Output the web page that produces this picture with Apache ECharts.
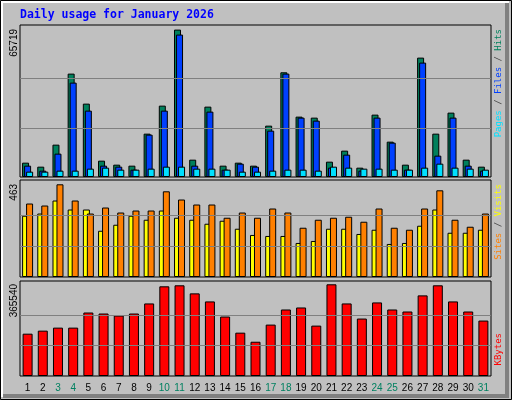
<!DOCTYPE html>
<html><head><meta charset="utf-8">
<script src="https://cdn.jsdelivr.net/npm/echarts@6/dist/echarts.min.js"></script>
<style>html,body{margin:0;padding:0;background:#c0c0c0}#c{width:512px;height:400px}</style>
</head><body><div id="c"></div>
<script>
const days = ['1','2','3','4','5','6','7','8','9','10','11','12','13','14','15','16','17','18','19','20','21','22','23','24','25','26','27','28','29','30','31'];
const weekend = ['3','4','10','11','17','18','24','25','31'];
const hits = [6393,4609,14423,46093,32711,7286,5501,5055,19329,31819,65719,7732,31373,5055,6393,5055,22898,46688,26912,26466,6840,11746,4163,27804,15761,5501,53229,19329,28696,7732,4609];
const files = [5056,2825,10409,42082,29591,5056,4610,3271,18885,29591,63495,5056,29145,3271,5948,4610,20669,46097,26469,25130,4164,9963,2825,26469,15316,3271,51004,9517,26469,5056,2825];
const pages = [2379,2379,2825,2825,3718,4164,3271,3271,3718,4610,4610,3718,3718,3271,2379,2379,2825,3271,3271,2825,4610,4164,3718,3718,3271,3271,4164,5948,4164,3718,3271];
const visits = [367,357,463,382,317,347,322,332,332,428,387,362,362,296,322,296,342,322,246,286,296,301,276,342,246,236,342,433,286,251,317];
const sites = [306,317,382,337,337,231,261,306,286,332,296,286,266,281,241,210,205,205,170,180,241,241,215,236,165,170,256,337,221,221,236];
const kbytes = [168714,180765,192816,192816,253071,249054,241020,249054,289224,357513,361530,329394,297258,237003,172731,136578,204867,265122,273156,200850,365540,289224,228969,293241,265122,257088,321360,361530,297258,257088,220935];
const maxHits = 65719, maxVisits = 463, maxKB = 365540;

const chart = echarts.init(document.getElementById('c'));
const L = 20, R = 21;
const grids = [
  {left:L,right:R,top:25,height:152},
  {left:L,right:R,top:180,height:97},
  {left:L,right:R,top:281,height:95}
];
grids.forEach(g=>{g.show=true;g.backgroundColor='#c0c0c0';g.borderColor='#000';g.borderWidth=1;});
function xa(i,show){return {type:'category',gridIndex:i,data:days,boundaryGap:true,
  axisLine:{show:false},axisTick:{show:false},splitLine:{show:false},
  axisLabel:{show:show,interval:0,margin:7,fontFamily:'Liberation Sans',fontSize:10,
    formatter:v=>weekend.includes(v)?'{w|'+v+'}':'{n|'+v+'}',
    rich:{w:{color:'#008060',fontFamily:'Liberation Sans',fontSize:10},n:{color:'#000',fontFamily:'Liberation Sans',fontSize:10}}}};}
function ya(i,max){return {type:'value',gridIndex:i,min:0,max:max,axisLine:{show:false},axisTick:{show:false},axisLabel:{show:false},splitLine:{show:false}};}
function ml(vals){return {silent:true,symbol:'none',label:{show:false},lineStyle:{color:'#808080',width:1,type:'solid'},data:vals.map(v=>({yAxis:v}))};}
const bs = {borderColor:'#000',borderWidth:1};
chart.setOption({
  animation:false,
  backgroundColor:'#c0c0c0',
  grid:grids,
  xAxis:[xa(0,false),xa(1,false),xa(2,true)],
  yAxis:[ya(0,maxHits*152/147.4),ya(1,maxVisits*97/92.7),ya(2,maxKB*95/91.7)],
  series:[
    {type:'bar',xAxisIndex:0,yAxisIndex:0,data:hits,barWidth:7,barGap:'-71%',itemStyle:Object.assign({color:'#00805c'},bs),markLine:ml([maxHits/3,maxHits*2/3]),z:2},
    {type:'bar',xAxisIndex:0,yAxisIndex:0,data:files,barWidth:7,barGap:'-71%',itemStyle:Object.assign({color:'#0040ff'},bs),z:3},
    {type:'bar',xAxisIndex:0,yAxisIndex:0,data:pages,barWidth:7,barGap:'-71%',itemStyle:Object.assign({color:'#00e0ff'},bs),z:4},
    {type:'bar',xAxisIndex:1,yAxisIndex:1,data:sites,barWidth:7,barGap:'-43%',itemStyle:Object.assign({color:'#ffff00'},bs),markLine:ml([maxVisits/3,maxVisits*2/3]),z:2},
    {type:'bar',xAxisIndex:1,yAxisIndex:1,data:visits,barWidth:7,barGap:'-43%',itemStyle:Object.assign({color:'#ff8000'},bs),z:3},
    {type:'bar',xAxisIndex:2,yAxisIndex:2,data:kbytes,barWidth:10,itemStyle:Object.assign({color:'#ff0000'},bs),markLine:ml([maxKB/3,maxKB*2/3]),z:2}
  ],
  graphic:[
    {type:'rect',shape:{x:0.5,y:0.5,width:511,height:399},style:{fill:'none',stroke:'#000',lineWidth:1},z:-1},
    {type:'polyline',shape:{points:[[2,397],[2,2],[509,2]]},style:{stroke:'#fff',lineWidth:2,fill:'none'}},
    {type:'polyline',shape:{points:[[3,396],[507,396],[507,3]]},style:{stroke:'#808080',lineWidth:4,fill:'none'}},
    {type:'text',x:20,y:15,style:{text:'Daily usage for January 2026',fill:'#0000ff',font:'bold 11.5px "DejaVu Sans Mono"',textVerticalAlign:'middle'}},
    {type:'text',x:14,y:29,rotation:Math.PI/2,style:{text:String(maxHits),fill:'#000',font:'10px "Liberation Sans"',textAlign:'right',textVerticalAlign:'middle'}},
    {type:'text',x:14,y:184,rotation:Math.PI/2,style:{text:String(maxVisits),fill:'#000',font:'10px "Liberation Sans"',textAlign:'right',textVerticalAlign:'middle'}},
    {type:'text',x:14,y:284,rotation:Math.PI/2,style:{text:String(maxKB),fill:'#000',font:'10px "Liberation Sans"',textAlign:'right',textVerticalAlign:'middle'}},
    {type:'text',x:499,y:29,rotation:Math.PI/2,style:{text:'{c|Pages}{s| / }{b|Files}{s| / }{g|Hits}',textAlign:'right',textVerticalAlign:'middle',font:'9px "DejaVu Sans Mono"',
      rich:{c:{fill:'#00e0ff',font:'9px "DejaVu Sans Mono"'},b:{fill:'#0040ff',font:'9px "DejaVu Sans Mono"'},g:{fill:'#00805c',font:'9px "DejaVu Sans Mono"'},s:{fill:'#404040',font:'9px "DejaVu Sans Mono"'}}}},
    {type:'text',x:499,y:184,rotation:Math.PI/2,style:{text:'{o|Sites}{s| / }{y|Visits}',textAlign:'right',textVerticalAlign:'middle',font:'9px "DejaVu Sans Mono"',
      rich:{o:{fill:'#ff8000',font:'9px "DejaVu Sans Mono"'},y:{fill:'#ffff00',font:'9px "DejaVu Sans Mono"'},s:{fill:'#404040',font:'9px "DejaVu Sans Mono"'}}}},
    {type:'text',x:499,y:333,rotation:Math.PI/2,style:{text:'KBytes',fill:'#ff0000',font:'9px "DejaVu Sans Mono"',textAlign:'right',textVerticalAlign:'middle'}}
  ]
});
</script></body></html>
